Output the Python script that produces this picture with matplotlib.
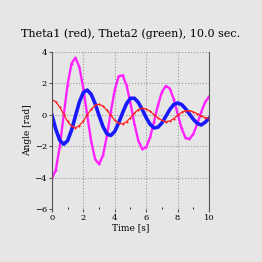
import numpy as np
import matplotlib
matplotlib.use('Agg')
import matplotlib.pyplot as plt
from matplotlib.ticker import MultipleLocator

# values every 0.25 s
t = np.arange(0, 10.01, 0.25)

theta1 = [0.95, 0.83, 0.49, 0.03, -0.42, -0.73, -0.82, -0.69, -0.39, -0.01,
          0.35, 0.60, 0.67, 0.55, 0.29, -0.04, -0.35, -0.55, -0.58, -0.44,
          -0.19, 0.11, 0.33, 0.42, 0.37, 0.22, 0.01, -0.20, -0.36, -0.44,
          -0.40, -0.25, -0.04, 0.15, 0.26, 0.26, 0.18, 0.06, -0.07, -0.18,
          -0.23]

theta2 = [0.00, -0.93, -1.62, -1.88, -1.65, -0.98, -0.08, 0.81, 1.42, 1.57,
          1.30, 0.71, -0.04, -0.75, -1.21, -1.32, -1.06, -0.52, 0.13, 0.71,
          1.05, 1.05, 0.78, 0.33, -0.19, -0.61, -0.84, -0.79, -0.52, -0.10,
          0.33, 0.65, 0.75, 0.65, 0.39, 0.05, -0.29, -0.55, -0.65, -0.48,
          -0.22]

omega = [-4.05, -3.51, -2.03, -0.04, 1.91, 3.26, 3.63, 3.03, 1.69, -0.04,
         -1.69, -2.82, -3.14, -2.59, -1.36, 0.18, 1.59, 2.45, 2.51, 1.87,
         0.73, -0.57, -1.65, -2.19, -2.07, -1.43, -0.44, 0.61, 1.45, 1.84,
         1.67, 1.00, 0.06, -0.87, -1.46, -1.55, -1.21, -0.58, 0.17, 0.81,
         1.15]

bg = '#e6e6e6'
plt.rcParams['font.family'] = 'DejaVu Serif'

fig = plt.figure(figsize=(2.62, 2.62), dpi=100, facecolor=bg)
ax = fig.add_axes([0.198, 0.202, 0.600, 0.600], facecolor=bg)

ax.plot(t, omega, color='#ff22ff', linewidth=1.7, marker='+', markersize=2,
        markeredgewidth=0.8)
ax.plot(t, theta2, color='#1a1aff', linewidth=2.6)
ax.plot(t, theta1, color='#ff2020', linewidth=0.9, marker='+', markersize=2,
        markeredgewidth=0.8)

ax.set_xlim(0, 10)
ax.set_ylim(-6, 4)
ax.xaxis.set_major_locator(MultipleLocator(2))
ax.xaxis.set_minor_locator(MultipleLocator(1))
ax.yaxis.set_major_locator(MultipleLocator(2))
ax.grid(True, which='major', color='#999999', linestyle=':', linewidth=0.8)

for side in ['top', 'bottom']:
    ax.spines[side].set_visible(False)
for side in ['left', 'right']:
    ax.spines[side].set_color('#555555')
    ax.spines[side].set_linewidth(0.8)

ax.tick_params(axis='both', which='major', labelsize=6, length=2,
               color='#555555', pad=1.5)
ax.tick_params(axis='x', which='minor', length=1.5, direction='in')

ax.set_xlabel('Time [s]', fontsize=6.5, labelpad=1)
ax.set_ylabel('Angle [rad]', fontsize=6.5, labelpad=2)
fig.text(0.5, 0.87, 'Theta1 (red), Theta2 (green), 10.0 sec.',
         ha='center', va='center', fontsize=8)

fig.savefig('out.png', dpi=100, facecolor=bg)
